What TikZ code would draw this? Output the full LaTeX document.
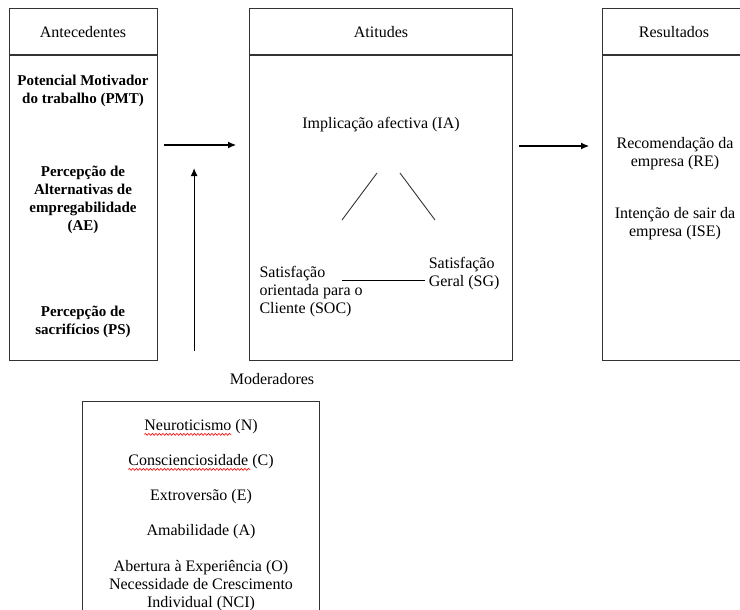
\documentclass[tikz,border=0pt]{standalone}
\usepackage{fontspec}
\setmainfont{Liberation Serif}
\usetikzlibrary{positioning,arrows.meta,decorations.pathmorphing}
\tikzset{node distance=35pt,
  panel/.style={draw=black!80, line width=1.1pt, anchor=north west, inner sep=0pt},
  txt/.style={align=center, font=\fontsize{16}{18}\selectfont},
  btxt/.style={align=center, font=\fontsize{15}{18}\selectfont\bfseries},
  link/.style={-{Latex[length=8pt,width=7pt]}, line width=1.1pt},
  spell/.style={red, line width=0.6pt, decorate,
    decoration={snake, amplitude=1pt, segment length=3.5pt}}}

\begin{document}
\begin{tikzpicture}[x=1pt, y=-1pt]
\useasboundingbox (0,0) rectangle (740,610);
% caixas
\node[panel, minimum width=148pt, minimum height=352pt] (antbox) at (9,8) {};
\node[panel, minimum width=263pt, minimum height=352pt] (attbox) at (249,8) {};
\node[panel, minimum width=160pt, minimum height=352pt] (resbox) at (602,8) {};
\node[panel, minimum width=237pt, minimum height=220pt] (modbox) at (82,401) {};
\foreach \b in {antbox,attbox,resbox}
  \draw[line width=1.1pt, draw=black!80] (\b.north west) ++(0,47) coordinate (h) -- (h -| \b.east);

\node[txt] (anttitle) at (83,32) {Antecedentes};
\node[txt] (atttitle) at (381,32) {Atitudes};
\node[txt] (restitle) at (674,32) {Resultados};

% antecedentes
\node[btxt] (pmt) at (83,91) {Potencial Motivador\\do trabalho (PMT)};
\node[btxt] (ae) at (83,200) {Percepção de\\Alternativas de\\empregabilidade\\(AE)};
\node[btxt] (ps) at (83,322) {Percepção de\\sacrifícios (PS)};

% atitudes
\node[txt] (ia) at (381,125) {Implicação afectiva (IA)};
\node[txt, align=left, anchor=west] (soc) at (256,292) {Satisfação\\orientada para o\\Cliente (SOC)};
\node[txt, align=left, anchor=east] (sg) at (503,274) {Satisfação\\Geral (SG)};
\coordinate (ial) at (377,173);
\coordinate (iar) at (400,173);
\coordinate (socl) at (342,220);
\coordinate (sgl) at (435,220);
\coordinate (socend) at (342,280);
\draw[line width=0.9pt, black!80] (ial) -- (socl);
\draw[line width=0.9pt, black!80] (iar) -- (sgl);
\draw[line width=1pt] (socend) -- (socend -| sg.west);

% resultados
\node[txt] (re) at (675,154) {Recomendação da\\empresa (RE)};
\node[txt] (ise) at (675,224) {Intenção de sair da\\empresa (ISE)};

% setas
\draw[link] ([shift={(6,137)}]antbox.north east) -- ([shift={(-13,137)}]attbox.north west);
\draw[link] ([shift={(6,138)}]attbox.north east) -- ([shift={(-13,138)}]resbox.north west);
\draw[link] ([shift={(36,-10)}]antbox.south east) -- ([shift={(36,-193)}]antbox.south east);

% moderadores
\node[txt] (modlabel) at (272,379) {Moderadores};
\node[txt] (neu) at (201,427) {Neuroticismo (N)};
\node[txt] (con) [below of=neu] {Conscienciosidade (C)};
\node[txt] (ext) [below of=con] {Extroversão (E)};
\node[txt] (ama) [below of=ext] {Amabilidade (A)};
\node[txt] (abe) [below of=ama, node distance=54pt] {Abertura à Experiência (O)\\Necessidade de Crescimento\\Individual (NCI)};
\draw[spell] ([shift={(3.5,3.5)}]neu.base west) -- ++(87,0);
\draw[spell] ([shift={(3.5,3.5)}]con.base west) -- ++(122,0);
\end{tikzpicture}
\end{document}
